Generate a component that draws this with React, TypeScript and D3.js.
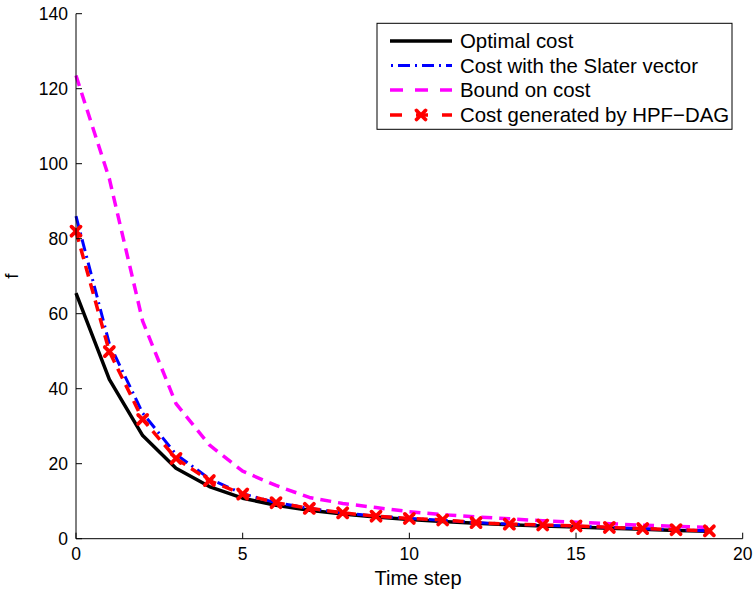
import React from "react";
import * as d3 from "d3";

const timeSteps = d3.range(0, 20);
const optimalCost = [65.5, 42.5, 27.5, 18.8, 13.9, 10.8, 8.9, 7.6, 6.6, 5.8, 5.1, 4.6, 4.1, 3.7, 3.4, 3.1, 2.8, 2.5, 2.2, 2.0];
const slaterCost = [86, 52, 33.5, 22.5, 16, 12, 9.6, 8.1, 6.9, 6.0, 5.4, 4.9, 4.3, 3.9, 3.6, 3.3, 3.0, 2.7, 2.4, 2.1];
const boundCost = [123.5, 96, 58, 36, 25, 18, 14.2, 11, 9.4, 8.3, 7.2, 6.4, 5.8, 5.3, 4.8, 4.4, 4.0, 3.6, 3.3, 3.0];
const hpfCost = [82, 49.9, 31.8, 21.4, 15.5, 11.9, 9.6, 8.1, 6.9, 6.0, 5.4, 5.0, 4.3, 3.9, 3.65, 3.4, 3.0, 2.7, 2.4, 2.1];

const xTicks = [0, 5, 10, 15, 20];
const yTicks = [0, 20, 40, 60, 80, 100, 120, 140];

const seriesNames = [
  "Optimal cost",
  "Cost with the Slater vector",
  "Bound on cost",
  "Cost generated by HPF\u2212DAG",
];

const W = 756;
const H = 594;
const left = 76;
const right = 742.7;
const top = 13.7;
const bottom = 538.7;
const FONT = "'Liberation Sans', Arial, Helvetica, sans-serif";

export default function App() {
  const x = d3.scaleLinear().domain([0, 20]).range([left, right]);
  const y = d3.scaleLinear().domain([0, 140]).range([bottom, top]);
  const line = (vals: number[]) =>
    d3.line<number>().x((_, i) => x(timeSteps[i])).y((d) => y(d))(vals) || "";

  const styles = [
    { color: "#000000", width: 3.5, dash: undefined as string | undefined },
    { color: "#0000ff", width: 3, dash: "12,5,2,5" },
    { color: "#ff00ff", width: 3.5, dash: "11,7" },
    { color: "#ff0000", width: 3.5, dash: "11,7" },
  ];
  const data = [optimalCost, slaterCost, boundCost, hpfCost];

  const marker = (cx: number, cy: number, key: string | number) => (
    <g key={key} stroke="#ff0000" strokeWidth={3.8} strokeLinecap="round">
      <line x1={cx - 4.5} y1={cy - 4.5} x2={cx + 4.5} y2={cy + 4.5} />
      <line x1={cx - 4.5} y1={cy + 4.5} x2={cx + 4.5} y2={cy - 4.5} />
    </g>
  );

  const legX = 377;
  const legY = 23.3;
  const legW = 355;
  const legH = 106;
  const rowYs = [41, 65.5, 90, 115];

  return (
    <div style={{ position: "fixed", left: 0, top: 0, width: W, height: H, background: "#fff" }}>
      <svg width={W} height={H} style={{ display: "block" }} fontFamily={FONT}>
        <rect width={W} height={H} fill="#fff" />
        {data.map((vals, i) => (
          <path
            key={i}
            d={line(vals)}
            fill="none"
            stroke={styles[i].color}
            strokeWidth={styles[i].width}
            strokeDasharray={styles[i].dash}
            strokeLinejoin="round"
          />
        ))}
        {hpfCost.map((v, i) => marker(x(timeSteps[i]), y(v), i))}

        <line x1={left} y1={top} x2={left} y2={bottom} stroke="#000" strokeWidth={1} />
        <line x1={left} y1={bottom} x2={right} y2={bottom} stroke="#000" strokeWidth={1} />
        {xTicks.map((t) => (
          <g key={"x" + t}>
            <line x1={x(t)} y1={bottom} x2={x(t)} y2={bottom - 6} stroke="#000" />
            <text x={x(t)} y={560} fontSize={17.5} textAnchor="middle" fill="#000">
              {t}
            </text>
          </g>
        ))}
        {yTicks.map((t) => (
          <g key={"y" + t}>
            <line x1={left} y1={y(t)} x2={left + 6} y2={y(t)} stroke="#000" />
            <text x={68} y={y(t) + 6} fontSize={17.5} textAnchor="end" fill="#000">
              {t}
            </text>
          </g>
        ))}
        <text x={418} y={585} fontSize={20} textAnchor="middle" fill="#000">
          Time step
        </text>
        <text
          transform={`translate(18,${(top + bottom) / 2}) rotate(-90)`}
          fontSize={19}
          textAnchor="middle"
          fill="#000"
        >
          f
        </text>

        <rect x={legX} y={legY} width={legW} height={legH} fill="#fff" stroke="#000" strokeWidth={1} />
        {seriesNames.map((name, i) => {
          const ry = rowYs[i];
          return (
            <g key={name}>
              <line
                x1={390}
                x2={452}
                y1={ry}
                y2={ry}
                stroke={styles[i].color}
                strokeWidth={styles[i].width}
                strokeDasharray={i === 3 ? "12,14" : i === 2 ? "13,12" : styles[i].dash}
                strokeDashoffset={i === 1 ? -8 : 0}
              />
              {i === 3 && marker(421, ry, "lm")}
              <text x={460} y={ry + 7} fontSize={20.4} fill="#000">
                {name}
              </text>
            </g>
          );
        })}
      </svg>
    </div>
  );
}
